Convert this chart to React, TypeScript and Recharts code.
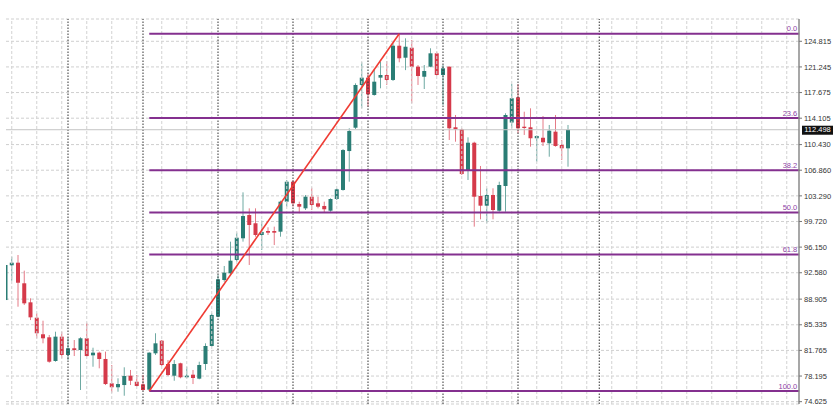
import { Bar, CartesianGrid, ComposedChart, ReferenceLine, XAxis, YAxis } from "recharts"

// daily candles (index 0 = leftmost bar)
const opens = [
  88.78, 93.62, 93.98, 91.11, 88.46, 86.32, 84.01, 83.59, 80.29, 83.68,
  81.13, 82.06, 81.82, 83.45, 81.08, 81.45, 80.57, 77.18, 76.63, 76.94,
  78.24, 77.4, 77.04, 76.3, 81.36, 83.12, 79.87, 78.24, 79.97, 78.02,
  78.38, 77.83, 79.87, 82.38, 86.46, 91.57, 92.5, 94.36, 97.38, 100.62,
  99.47, 97.84, 98.39, 98.39, 98.3, 102.48, 105.26, 102.15, 101.55, 103.17,
  102.25, 101.88, 101.22, 102.85, 104.11, 109.53, 112.78, 118.73, 119.75, 117.34,
  119.75, 120.12, 119.43, 124.2, 122.53, 123.92, 121.28, 119.88, 121.28, 123.14,
  120.12, 121.28, 112.84, 112.56, 106.89, 110.69, 103.27, 101.92, 103.41, 101.22,
  104.66, 113.5, 117.02, 112.92, 112.84, 111.31, 111.38, 110.61, 112.23, 110.37,
  109.91,
]
const highs = [
  93.7, 94.81, 95.05, 92.87, 89.02, 86.93, 85.9, 83.91, 84.37, 84.37,
  83.59, 83.21, 83.59, 85.62, 82.14, 81.59, 81.59, 79.73, 77.88, 79.41,
  79.04, 78.34, 78.34, 81.5, 84.15, 83.2, 80.43, 80.43, 80.05, 79.49,
  79.04, 80.19, 82.75, 86.93, 92.27, 93.52, 96.91, 98.16, 103.78, 101.55,
  101.55, 99.83, 98.91, 99.0, 102.62, 105.5, 105.5, 102.48, 103.41, 104.43,
  103.17, 102.48, 102.95, 104.34, 109.81, 112.7, 118.96, 121.89, 120.36, 120.82,
  121.97, 122.07, 124.54, 125.87, 125.23, 124.99, 121.51, 121.51, 123.84, 123.37,
  121.51, 121.3, 114.55, 112.7, 111.44, 110.83, 107.45, 104.34, 104.34, 105.26,
  114.79, 118.87, 118.87, 115.01, 115.48, 111.7, 114.41, 113.16, 114.55, 111.07,
  113.16,
]
const lows = [
  88.7, 91.47, 87.85, 88.09, 85.99, 83.45, 82.75, 80.05, 80.19, 80.66,
  80.43, 80.98, 76.25, 80.89, 79.49, 79.27, 76.94, 75.88, 76.01, 75.45,
  76.94, 76.71, 76.15, 76.1, 81.13, 79.59, 78.2, 77.54, 77.88, 77.88,
  77.08, 77.74, 79.04, 82.28, 86.37, 91.33, 92.27, 94.12, 96.91, 93.66,
  97.6, 95.75, 97.84, 96.44, 97.6, 101.78, 101.78, 100.86, 101.32, 101.32,
  101.55, 101.0, 101.08, 102.72, 104.01, 105.26, 112.6, 115.48, 115.71, 117.24,
  118.27, 118.73, 119.29, 121.89, 120.8, 116.18, 118.73, 118.17, 121.2, 120.03,
  115.94, 111.07, 110.83, 106.19, 105.5, 99.0, 100.02, 99.47, 100.02, 101.08,
  101.08, 112.7, 112.0, 111.77, 110.14, 108.05, 110.23, 108.74, 110.14, 108.28,
  107.35,
]
const closes = [
  93.66, 93.98, 91.19, 88.32, 86.37, 84.15, 83.45, 80.19, 83.68, 81.13,
  82.06, 81.82, 83.45, 80.98, 81.45, 80.57, 77.08, 76.63, 77.08, 78.2,
  77.54, 76.81, 76.25, 81.45, 82.75, 79.73, 78.34, 79.87, 78.02, 78.24,
  77.92, 79.73, 82.38, 86.7, 91.67, 92.59, 94.26, 97.46, 100.48, 99.23,
  97.84, 98.26, 98.16, 98.16, 102.48, 105.26, 102.25, 101.78, 103.17, 102.02,
  101.78, 101.42, 102.85, 104.2, 109.67, 112.32, 118.73, 119.75, 117.43, 119.19,
  120.12, 119.43, 124.2, 122.45, 124.06, 121.28, 119.98, 120.68, 123.14, 120.12,
  121.05, 112.7, 112.56, 106.33, 110.69, 103.17, 101.92, 103.41, 101.32, 104.8,
  114.55, 116.88, 112.7, 112.74, 111.31, 111.63, 110.75, 112.37, 110.23, 109.91,
  112.498,
]

const SLOTS = 128
const yTicks = [
  124.815, 121.245, 117.675, 114.105, 110.43, 106.86, 103.29, 99.72,
  96.15, 92.58, 88.905, 85.335, 81.765, 78.195, 74.625,
]
const fibPercents = [0, 23.6, 38.2, 50, 61.8, 100]
const fibLabels = ["0.0", "23.6", "38.2", "50.0", "61.8", "100.0"]
const swingLowIdx = 23
const swingHighIdx = 63
const currentPrice = 112.498
const gridIdx = [
  1, 5, 9, 13, 17, 21, 25, 29, 33, 37, 41, 45, 49, 53, 57, 61,
  65, 69, 73, 77, 81, 85, 89, 93, 97, 101, 105, 109, 113, 117, 121, 125,
]
const separatorIdx = [10, 22, 34, 46, 58, 70, 82, 95]

const data = Array.from({ length: SLOTS }, (_, i) => ({
  i,
  open: opens[i] ?? null,
  high: highs[i] ?? null,
  low: lows[i] ?? null,
  close: closes[i] ?? null,
}))

const UP = "#2a7d75"
const DOWN = "#d53a4a"
const UP_WICK = "#6ea9a2"
const DOWN_WICK = "#e57a86"
const FIB = "#84308f"
const FONT = "'Liberation Sans', Arial, sans-serif"

function Candle(props: any) {
  const { x, y, width, height, payload } = props
  if (!payload || payload.open == null || !height) return <g />
  const { open, high, low, close } = payload
  const up = close >= open
  const k = height / (high - low)
  const cx = x + width / 2
  const top = y + (high - Math.max(open, close)) * k
  const bot = y + (high - Math.min(open, close)) * k
  return (
    <g>
      <line x1={cx} x2={cx} y1={y} y2={y + height} stroke={up ? UP_WICK : DOWN_WICK} strokeWidth={1} />
      <rect x={cx - 2} y={top} width={4} height={Math.max(1, bot - top)} fill={up ? UP : DOWN} />
    </g>
  )
}

function FibLabel(props: any) {
  const vb = props.viewBox
  if (!vb) return null
  return (
    <text
      x={vb.x + vb.width - 2}
      y={vb.y - 2.5}
      textAnchor="end"
      fontSize={7.5}
      fill="#8e44a6"
      fontFamily={FONT}
    >
      {props.text}
    </text>
  )
}

function PriceTag(props: any) {
  const vb = props.viewBox
  if (!vb) return null
  const x = vb.x + vb.width + 3
  return (
    <g>
      <rect x={x} y={vb.y - 4} width={31} height={9} fill="#111" />
      <text x={x + 15.5} y={vb.y + 0.5} dy="0.3em" textAnchor="middle" fontSize={7.5} fill="#fff" fontFamily={FONT}>
        {currentPrice.toFixed(3)}
      </text>
    </g>
  )
}

export default function App() {
  const swingHigh = highs[swingHighIdx]
  const swingLow = lows[swingLowIdx]
  return (
    <div style={{ position: "relative", width: 840, height: 413, overflow: "hidden", background: "#fff", fontFamily: FONT }}>
      <style>{"body{margin:0}"}</style>
      <div style={{ position: "absolute", left: 6, top: 0, width: 834, height: 413, overflow: "hidden" }}>
        <ComposedChart width={834} height={413} data={data} margin={{ top: 19, right: 0, bottom: 9, left: 0 }}>
          <CartesianGrid vertical={false} stroke="#cfcfcf" strokeDasharray="3 2" />
          <XAxis dataKey="i" type="category" hide padding={{ left: -3.625, right: -3.375 }} />
          <YAxis
            orientation="right"
            width={41}
            domain={[74.3, 127.92]}
            allowDataOverflow
            ticks={yTicks}
            interval={0}
            tickFormatter={(v: number) => v.toFixed(3)}
            tick={{ fontSize: 7.5, fill: "#333", fontFamily: FONT }}
            tickSize={3}
            tickLine={{ stroke: "#777" }}
            axisLine={{ stroke: "#8a8a8a", strokeWidth: 1.5 }}
          />
          {gridIdx.map((k) => (
            <ReferenceLine key={"g" + k} x={k} stroke="#d2d2d2" strokeDasharray="3 2" />
          ))}
          {separatorIdx.map((k) => (
            <ReferenceLine key={"s" + k} x={k} stroke="#333" strokeDasharray="1.5 1.5" />
          ))}
          <ReferenceLine y={currentPrice} stroke="#c4c4c4" label={<PriceTag />} />
          <Bar
            dataKey={(d: any) => (d.low == null ? null : [d.low, d.high])}
            shape={(p: any) => <Candle {...p} />}
            isAnimationActive={false}
          />
          {fibPercents.map((p, k) => {
            const v = swingHigh - (p / 100) * (swingHigh - swingLow)
            return (
              <ReferenceLine
                key={"f" + p}
                segment={[
                  { x: swingLowIdx, y: v },
                  { x: SLOTS - 1, y: v },
                ]}
                stroke={FIB}
                strokeWidth={2}
                label={<FibLabel text={fibLabels[k]} />}
              />
            )
          })}
          <ReferenceLine
            segment={[
              { x: swingLowIdx, y: swingLow },
              { x: swingHighIdx, y: swingHigh },
            ]}
            stroke="#ef3b33"
            strokeWidth={1.6}
          />
        </ComposedChart>
      </div>
    </div>
  )
}
